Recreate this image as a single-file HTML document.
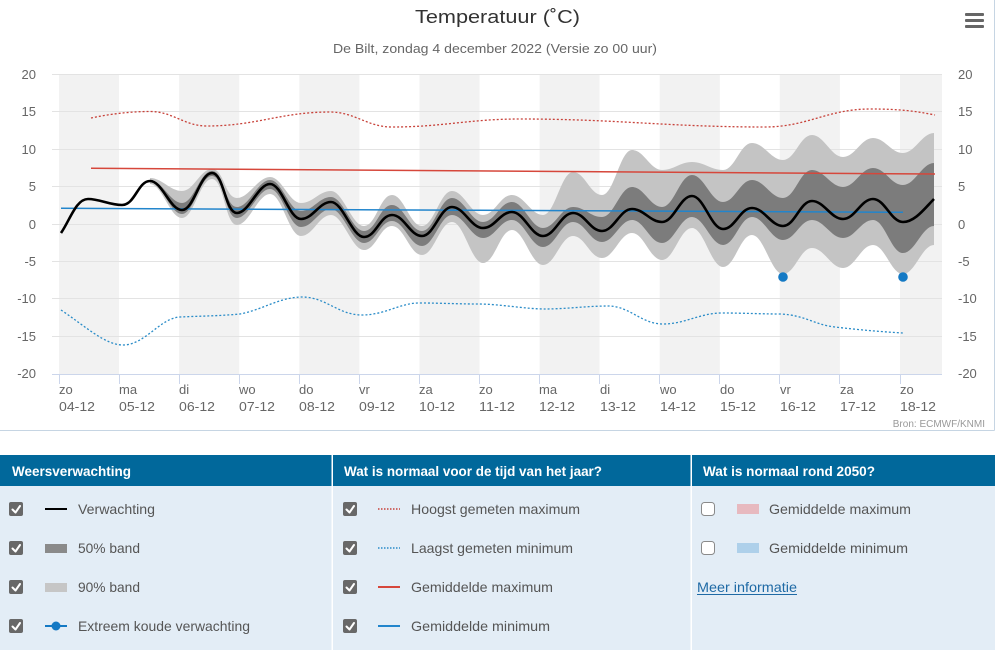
<!DOCTYPE html>
<html>
<head>
<meta charset="utf-8">
<style>
  html,body{margin:0;padding:0;background:#fff;}
  body{width:996px;height:650px;overflow:hidden;}
  svg{display:block;font-family:"Liberation Sans",sans-serif;}
</style>
</head>
<body>
<svg width="996" height="650" viewBox="0 0 996 650" xmlns="http://www.w3.org/2000/svg">
  <defs>
    <clipPath id="plot"><rect x="52" y="70" width="890" height="304"/></clipPath>
  </defs>
  <rect x="0" y="0" width="996" height="650" fill="#fff"/>

  <!-- chart border -->
  <line x1="0" y1="430.5" x2="994.5" y2="430.5" stroke="#c6d5e3" stroke-width="1"/>
  <line x1="994.5" y1="0" x2="994.5" y2="430.5" stroke="#c6d5e3" stroke-width="1"/>

  <!-- title -->
  <text x="415" y="23" font-size="18" fill="#333" textLength="165" lengthAdjust="spacingAndGlyphs">Temperatuur (˚C)</text>
  <text x="333" y="53" font-size="13" fill="#666" textLength="324" lengthAdjust="spacingAndGlyphs">De Bilt, zondag 4 december 2022 (Versie zo 00 uur)</text>

  <!-- hamburger -->
  <g fill="#666">
    <rect x="965" y="13" width="19" height="3" rx="1"/>
    <rect x="965" y="19" width="19" height="3" rx="1"/>
    <rect x="965" y="25" width="19" height="3" rx="1"/>
  </g>

  <!-- day bands -->
  <g fill="#f2f2f2">
    <rect x="59" y="74" width="60" height="300"/>
    <rect x="179.1" y="74" width="60.1" height="300"/>
    <rect x="299.3" y="74" width="60.1" height="300"/>
    <rect x="419.4" y="74" width="60.1" height="300"/>
    <rect x="539.6" y="74" width="60" height="300"/>
    <rect x="659.7" y="74" width="60.1" height="300"/>
    <rect x="779.8" y="74" width="60.1" height="300"/>
    <rect x="900" y="74" width="42" height="300"/>
  </g>

  <!-- grid lines -->
  <g stroke="#e3e3e3" stroke-width="1">
    <line x1="52" y1="74.5" x2="942" y2="74.5"/>
    <line x1="52" y1="111.5" x2="942" y2="111.5"/>
    <line x1="52" y1="149.5" x2="942" y2="149.5"/>
    <line x1="52" y1="186.5" x2="942" y2="186.5"/>
    <line x1="52" y1="224.5" x2="942" y2="224.5"/>
    <line x1="52" y1="261.5" x2="942" y2="261.5"/>
    <line x1="52" y1="298.5" x2="942" y2="298.5"/>
    <line x1="52" y1="336.5" x2="942" y2="336.5"/>
  </g>
  <!-- x axis -->
  <line x1="52" y1="374.5" x2="942" y2="374.5" stroke="#ccd6eb" stroke-width="1"/>
  <g stroke="#ccd6eb" stroke-width="1">
    <line x1="59.5" y1="374" x2="59.5" y2="384"/>
    <line x1="119.5" y1="374" x2="119.5" y2="384"/>
    <line x1="179.5" y1="374" x2="179.5" y2="384"/>
    <line x1="239.5" y1="374" x2="239.5" y2="384"/>
    <line x1="299.5" y1="374" x2="299.5" y2="384"/>
    <line x1="359.5" y1="374" x2="359.5" y2="384"/>
    <line x1="419.5" y1="374" x2="419.5" y2="384"/>
    <line x1="479.5" y1="374" x2="479.5" y2="384"/>
    <line x1="539.5" y1="374" x2="539.5" y2="384"/>
    <line x1="599.5" y1="374" x2="599.5" y2="384"/>
    <line x1="659.5" y1="374" x2="659.5" y2="384"/>
    <line x1="719.5" y1="374" x2="719.5" y2="384"/>
    <line x1="779.5" y1="374" x2="779.5" y2="384"/>
    <line x1="839.5" y1="374" x2="839.5" y2="384"/>
    <line x1="900.5" y1="374" x2="900.5" y2="384"/>
  </g>

  <!-- y labels left -->
  <g font-size="13" fill="#666" text-anchor="end">
    <text x="36" y="79">20</text>
    <text x="36" y="116">15</text>
    <text x="36" y="154">10</text>
    <text x="36" y="191">5</text>
    <text x="36" y="229">0</text>
    <text x="36" y="266">-5</text>
    <text x="36" y="303">-10</text>
    <text x="36" y="341">-15</text>
    <text x="36" y="378">-20</text>
  </g>
  <!-- y labels right -->
  <g font-size="13" fill="#666">
    <text x="958" y="79">20</text>
    <text x="958" y="116">15</text>
    <text x="958" y="154">10</text>
    <text x="958" y="191">5</text>
    <text x="958" y="229">0</text>
    <text x="958" y="266">-5</text>
    <text x="958" y="303">-10</text>
    <text x="958" y="341">-15</text>
    <text x="958" y="378">-20</text>
  </g>

  <!-- x labels -->
  <g font-size="13" fill="#666">
    <text x="59" y="394">zo</text><text x="59" y="411" textLength="36" lengthAdjust="spacingAndGlyphs">04-12</text>
    <text x="119" y="394">ma</text><text x="119" y="411" textLength="36" lengthAdjust="spacingAndGlyphs">05-12</text>
    <text x="179" y="394">di</text><text x="179" y="411" textLength="36" lengthAdjust="spacingAndGlyphs">06-12</text>
    <text x="239" y="394">wo</text><text x="239" y="411" textLength="36" lengthAdjust="spacingAndGlyphs">07-12</text>
    <text x="299" y="394">do</text><text x="299" y="411" textLength="36" lengthAdjust="spacingAndGlyphs">08-12</text>
    <text x="359" y="394">vr</text><text x="359" y="411" textLength="36" lengthAdjust="spacingAndGlyphs">09-12</text>
    <text x="419" y="394">za</text><text x="419" y="411" textLength="36" lengthAdjust="spacingAndGlyphs">10-12</text>
    <text x="479" y="394">zo</text><text x="479" y="411" textLength="36" lengthAdjust="spacingAndGlyphs">11-12</text>
    <text x="539" y="394">ma</text><text x="539" y="411" textLength="36" lengthAdjust="spacingAndGlyphs">12-12</text>
    <text x="600" y="394">di</text><text x="600" y="411" textLength="36" lengthAdjust="spacingAndGlyphs">13-12</text>
    <text x="660" y="394">wo</text><text x="660" y="411" textLength="36" lengthAdjust="spacingAndGlyphs">14-12</text>
    <text x="720" y="394">do</text><text x="720" y="411" textLength="36" lengthAdjust="spacingAndGlyphs">15-12</text>
    <text x="780" y="394">vr</text><text x="780" y="411" textLength="36" lengthAdjust="spacingAndGlyphs">16-12</text>
    <text x="840" y="394">za</text><text x="840" y="411" textLength="36" lengthAdjust="spacingAndGlyphs">17-12</text>
    <text x="900" y="394">zo</text><text x="900" y="411" textLength="36" lengthAdjust="spacingAndGlyphs">18-12</text>
  </g>

  <text x="985" y="427" font-size="10" fill="#999" text-anchor="end">Bron: ECMWF/KNMI</text>

  <g clip-path="url(#plot)">
    <!-- 90% band -->
    <path fill="#c4c4c4" d="M150,178 C162,178 170,191 182,191 S200,169 212,169 S225,198 237,198 S258,177 270,177 S289,203 301,203 S319,191 331,191 S352,226 364,226 S380,195 392,195 S410,226 422,226 S440,191 452,191 S471,215 483,215 S500,195 512,195 S531,215 543,215 S561,172 573,172 S590,195 602,195 S620,150 632,150 S650,170 662,170 S680,162 692,162 S711,170 723,170 S740,143 752,143 S771,160 783,160 S800,135 812,135 S831,157 843,157 S861,138 873,138 S891,153 903,153 S922,133 934,133 L934,245 C922,245 915,274 903,274 S885,245 873,245 S855,268 843,268 S824,248 812,248 S795,274 783,274 S764,235 752,235 S735,267 723,267 S704,228 692,228 S674,260 662,260 S644,233 632,233 S614,258 602,258 S585,236 573,236 S555,265 543,265 S524,230 512,230 S495,263 483,263 S464,222 452,222 S434,255 422,255 S404,226 392,226 S376,250 364,250 S343,215 331,215 S313,236 301,236 S282,194 270,194 S249,225 237,225 S224,179 212,179 S194,218 182,218 S162,184 150,184 Z"/>
    <!-- 50% band -->
    <path fill="#7c7c7c" d="M150,180 C162,180 170,203 182,203 S200,171 212,171 S225,207 237,207 S258,180 270,180 S289,211 301,211 S319,197 331,197 S352,231 364,231 S380,205 392,205 S410,231 422,231 S440,198 452,198 S471,222 483,222 S500,202 512,202 S531,228 543,228 S561,207 573,207 S590,217 602,217 S620,187 632,187 S650,207 662,207 S680,175 692,175 S711,202 723,202 S740,180 752,180 S771,198 783,198 S800,170 812,170 S831,187 843,187 S861,168 873,168 S891,185 903,185 S922,163 934,163 L934,226 C922,226 915,253 903,253 S885,220 873,220 S855,238 843,238 S824,220 812,220 S795,240 783,240 S764,217 752,217 S735,245 723,245 S704,217 692,217 S674,243 662,243 S644,220 632,220 S614,242 602,242 S585,222 573,222 S555,247 543,247 S524,220 512,220 S495,238 483,238 S464,215 452,215 S434,246 422,246 S404,221 392,221 S376,243 364,243 S343,209 331,209 S313,227 301,227 S282,189 270,189 S249,218 237,218 S224,176 212,176 S194,214 182,214 S162,182 150,182 Z"/>

    <!-- hoogst gemeten maximum (red dotted) -->
    <path fill="none" stroke="#c8423a" stroke-width="1.3" stroke-dasharray="2,2" d="M91,118 C110,114 130,111.5 150,111.5 C173,111.5 184,126 207,126 C256,126 281,112 330,112 C355,112 367,127 392,127 C443,127 469,119 520,119 C618,119 667,127 765,127 C807,127 828,109 870,109 C900,109 915,111 935,115"/>
    <!-- laagst gemeten minimum (blue dotted) -->
    <path fill="none" stroke="#2a8cc8" stroke-width="1.3" stroke-dasharray="2,2" d="M61,310 C85,326 105,345 123,345 C145,345 160,318 180,317 C200,316 220,316 240,314 C262,310 280,297 302,297 C326,297 338,315 362,315 C385,315 400,303 419,303 C440,303 458,304 478,304 C500,304 525,309 545,309 C565,309 588,306 608,306 C630,306 641,324 663,324 C685,324 700,313 722,313 C745,313 760,314 780,314 C805,315 815,325 835,327 C860,330 885,332 903,333"/>
    <!-- gemiddelde maximum -->
    <path fill="none" stroke="#d6473b" stroke-width="1.5" d="M91,168.3 L935,174"/>
    <!-- gemiddelde minimum -->
    <path fill="none" stroke="#2285cc" stroke-width="1.5" d="M61,208.3 L903,212.3"/>

    <!-- verwachting -->
    <path fill="none" stroke="#000" stroke-width="2.6" stroke-linejoin="round" d="M61,233 C70,220 76,199 88,199 S109,205 122,205 S138,181 150,181 S170,210 182,210 S200,173 212,173 S225,213 237,213 S258,184 270,184 S289,219 301,219 S319,202 331,202 S352,237 364,237 S380,215 392,215 S410,236 422,236 S440,207 452,207 S471,228 483,228 S500,212 512,212 S531,236 543,236 S561,213 573,213 S590,231 602,231 S620,209 632,209 S650,222 662,222 S680,196 692,196 S711,229 723,229 S740,208 752,208 S771,226 783,226 S800,201 812,201 S831,219 843,219 S861,199 873,199 S891,222 903,222 S925,208 934,199"/>

    <!-- extreme cold dots -->
    <circle cx="783" cy="277" r="4.8" fill="#1479c4"/>
    <circle cx="903" cy="277" r="4.8" fill="#1479c4"/>
  </g>

  <!-- ===== Legend table ===== -->
  <rect x="0" y="455" width="995" height="31" fill="#01689b"/>
  <rect x="0" y="486" width="995" height="164" fill="#e3edf6"/>
  <rect x="331.5" y="455" width="1.5" height="195" fill="#fff"/>
  <rect x="690.5" y="455" width="1.5" height="195" fill="#fff"/>

  <g font-size="14" font-weight="bold" fill="#fff">
    <text x="12" y="476" textLength="119" lengthAdjust="spacingAndGlyphs">Weersverwachting</text>
    <text x="344" y="476" textLength="258" lengthAdjust="spacingAndGlyphs">Wat is normaal voor de tijd van het jaar?</text>
    <text x="703" y="476" textLength="172" lengthAdjust="spacingAndGlyphs">Wat is normaal rond 2050?</text>
  </g>

  <!-- checked boxes -->
  <g>
    <g fill="#686868">
      <rect x="9" y="502" width="14" height="14" rx="2"/>
      <rect x="9" y="541" width="14" height="14" rx="2"/>
      <rect x="9" y="580" width="14" height="14" rx="2"/>
      <rect x="9" y="619" width="14" height="14" rx="2"/>
      <rect x="343" y="502" width="14" height="14" rx="2"/>
      <rect x="343" y="541" width="14" height="14" rx="2"/>
      <rect x="343" y="580" width="14" height="14" rx="2"/>
      <rect x="343" y="619" width="14" height="14" rx="2"/>
    </g>
    <g fill="none" stroke="#fff" stroke-width="2" stroke-linecap="round" stroke-linejoin="round">
      <path d="M12.5,509.5 l3,3 l4.5,-6.5"/>
      <path d="M12.5,548.5 l3,3 l4.5,-6.5"/>
      <path d="M12.5,587.5 l3,3 l4.5,-6.5"/>
      <path d="M12.5,626.5 l3,3 l4.5,-6.5"/>
      <path d="M346.5,509.5 l3,3 l4.5,-6.5"/>
      <path d="M346.5,548.5 l3,3 l4.5,-6.5"/>
      <path d="M346.5,587.5 l3,3 l4.5,-6.5"/>
      <path d="M346.5,626.5 l3,3 l4.5,-6.5"/>
    </g>
    <rect x="701.5" y="502.5" width="13" height="13" rx="3" fill="#fff" stroke="#8a8a8a" stroke-width="1"/>
    <rect x="701.5" y="541.5" width="13" height="13" rx="3" fill="#fff" stroke="#8a8a8a" stroke-width="1"/>
  </g>

  <!-- legend symbols col1 -->
  <line x1="45" y1="509" x2="67" y2="509" stroke="#000" stroke-width="2"/>
  <rect x="45" y="544" width="22" height="9" fill="#8a8a8a"/>
  <rect x="45" y="583" width="22" height="9" fill="#c6c6c6"/>
  <line x1="45" y1="626" x2="67" y2="626" stroke="#1479c4" stroke-width="2"/>
  <circle cx="56" cy="626" r="4.5" fill="#1479c4"/>

  <!-- col2 symbols -->
  <line x1="378" y1="509" x2="400" y2="509" stroke="#c8423a" stroke-width="1.5" stroke-dasharray="1.5,1.5"/>
  <line x1="378" y1="548" x2="400" y2="548" stroke="#2a8cc8" stroke-width="1.5" stroke-dasharray="1.5,1.5"/>
  <line x1="378" y1="587" x2="400" y2="587" stroke="#d6473b" stroke-width="2"/>
  <line x1="378" y1="626" x2="400" y2="626" stroke="#2285cc" stroke-width="2"/>

  <!-- col3 symbols -->
  <rect x="737" y="504" width="22" height="10" fill="#e7b9bf"/>
  <rect x="737" y="543" width="22" height="10" fill="#aed0ea"/>

  <g font-size="14" fill="#555">
    <text x="78" y="514" textLength="77" lengthAdjust="spacingAndGlyphs">Verwachting</text>
    <text x="78" y="553" textLength="62" lengthAdjust="spacingAndGlyphs">50% band</text>
    <text x="78" y="592" textLength="62" lengthAdjust="spacingAndGlyphs">90% band</text>
    <text x="78" y="631" textLength="172" lengthAdjust="spacingAndGlyphs">Extreem koude verwachting</text>

    <text x="411" y="514" textLength="169" lengthAdjust="spacingAndGlyphs">Hoogst gemeten maximum</text>
    <text x="411" y="553" textLength="162" lengthAdjust="spacingAndGlyphs">Laagst gemeten minimum</text>
    <text x="411" y="592" textLength="142" lengthAdjust="spacingAndGlyphs">Gemiddelde maximum</text>
    <text x="411" y="631" textLength="139" lengthAdjust="spacingAndGlyphs">Gemiddelde minimum</text>

    <text x="769" y="514" textLength="142" lengthAdjust="spacingAndGlyphs">Gemiddelde maximum</text>
    <text x="769" y="553" textLength="139" lengthAdjust="spacingAndGlyphs">Gemiddelde minimum</text>
  </g>
  <text x="697" y="592" font-size="14" fill="#1f6aa5" textLength="100" lengthAdjust="spacingAndGlyphs">Meer informatie</text>
  <line x1="697" y1="594.5" x2="797" y2="594.5" stroke="#1f6aa5" stroke-width="1"/>
</svg>
</body>
</html>
